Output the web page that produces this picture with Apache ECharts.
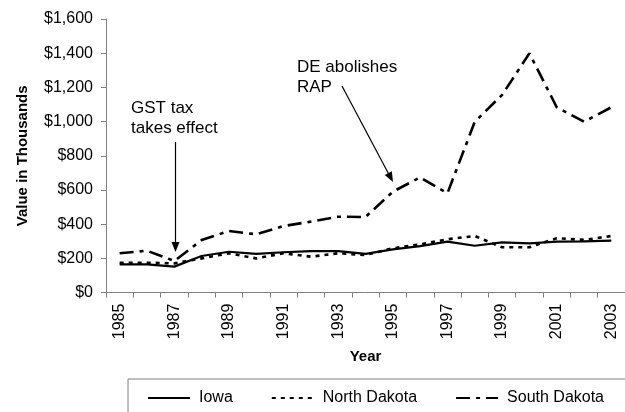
<!DOCTYPE html>
<html>
<head>
<meta charset="utf-8">
<script src="https://cdn.jsdelivr.net/npm/echarts@6/dist/echarts.min.js"></script>
<style>
html,body{margin:0;padding:0;background:#fff;}
#c{width:625px;height:412px;}
</style>
</head>
<body>
<div id="c"></div>
<script>
const years = ['1985','1986','1987','1988','1989','1990','1991','1992','1993','1994','1995','1996','1997','1998','1999','2000','2001','2002','2003'];
const iowa = [165,165,152,214,239,226,236,243,243,226,253,272,298,274,294,288,298,300,304];
const northDakota = [175,175,171,200,230,200,230,210,230,220,259,282,312,331,265,265,318,308,331];
const southDakota = [230,245,185,307,360,341,389,415,444,442,590,674,581,999,1156,1399,1084,999,1084];
const seriesNames = ['Iowa','North Dakota','South Dakota'];
const yMin = 0, yMax = 1600, yStep = 200;
const annotationTexts = ['GST tax\ntakes effect', 'DE abolishes\nRAP'];

const FONT = '"Liberation Sans", Arial, Helvetica, sans-serif';
const chart = echarts.init(document.getElementById('c'), null, {renderer:'canvas'});

function arrow(x1,y1,x2,y2){
  const ang = Math.atan2(y2-y1, x2-x1);
  const L = 10, W = 4;
  const bx = x2 - L*Math.cos(ang), by = y2 - L*Math.sin(ang);
  const px = -Math.sin(ang)*W, py = Math.cos(ang)*W;
  return [
    {type:'line', shape:{x1:x1,y1:y1,x2:bx,y2:by}, style:{stroke:'#000', lineWidth:1.2}, z:100},
    {type:'polygon', shape:{points:[[x2,y2],[bx+px,by+py],[bx-px,by-py]]}, style:{fill:'#000'}, z:100}
  ];
}

chart.setOption({
  animation:false,
  backgroundColor:'#fff',
  textStyle:{fontFamily:FONT, color:'#000'},
  grid:{left:106, top:19, width:528, height:273.6, containLabel:false},
  xAxis:{
    type:'category', data:years, boundaryGap:true,
    name:'Year', nameLocation:'middle', nameGap:57,
    nameTextStyle:{fontFamily:FONT, fontWeight:'bold', fontSize:15, color:'#000'},
    axisLine:{lineStyle:{color:'#808080', width:1}},
    axisTick:{show:true, interval:0, length:5, lineStyle:{color:'#808080'}},
    axisLabel:{interval:1, rotate:90, margin:11, fontSize:16, fontFamily:FONT, color:'#000'},
    splitLine:{show:false}
  },
  yAxis:{
    type:'value', min:yMin, max:yMax, interval:yStep,
    name:'Value in Thousands', nameLocation:'middle', nameGap:76, nameRotate:90,
    nameTextStyle:{fontFamily:FONT, fontWeight:'bold', fontSize:15, color:'#000'},
    axisLine:{show:true, lineStyle:{color:'#808080', width:1}},
    axisTick:{show:true, length:5, lineStyle:{color:'#808080'}},
    axisLabel:{margin:13, fontSize:16, fontFamily:FONT, color:'#000',
      formatter:function(v){return '$' + v.toLocaleString('en-US');}},
    splitLine:{show:false}
  },
  legend:{
    data:seriesNames,
    left:128, top:379, width:560,
    padding:[11,40,16,19],
    itemGap:38, itemWidth:42, itemHeight:12,
    borderColor:'#808080', borderWidth:1,
    itemStyle:{opacity:0},
    textStyle:{fontFamily:FONT, fontSize:16, color:'#000', padding:[0,0,0,4]}
  },
  series:[
    {name:seriesNames[2], type:'line', data:southDakota, symbol:'none', z:3,
      lineStyle:{color:'#000', width:2.6, type:[14,6,4,6]}, itemStyle:{color:'#000'}},
    {name:seriesNames[1], type:'line', data:northDakota, symbol:'none', z:4,
      lineStyle:{color:'#000', width:2.6, type:[4,5]}, itemStyle:{color:'#000'}},
    {name:seriesNames[0], type:'line', data:iowa, symbol:'none', z:5,
      lineStyle:{color:'#000', width:2.2, type:'solid'}, itemStyle:{color:'#000'}}
  ]
});

const graphics = [
  {type:'text', left:131, top:98, z:100, style:{text:annotationTexts[0], font:'17px ' + FONT, fill:'#000', lineHeight:20}},
  {type:'text', left:297, top:57, z:100, style:{text:annotationTexts[1], font:'17px ' + FONT, fill:'#000', lineHeight:20}}
].concat(arrow(175.5,142,175.5,252)).concat(arrow(342,86,393,182));
chart.setOption({graphic:graphics});
</script>
</body>
</html>
